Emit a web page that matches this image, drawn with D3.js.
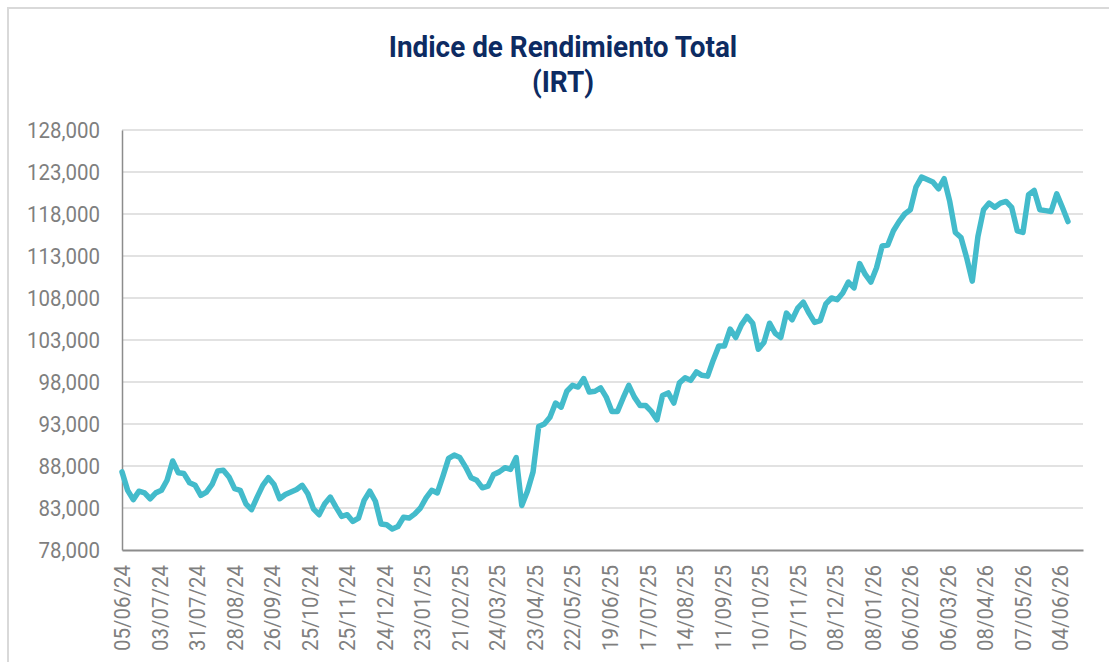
<!DOCTYPE html>
<html>
<head>
<meta charset="utf-8">
<script src="https://cdn.jsdelivr.net/npm/d3@7"></script>
<style>
  body { margin: 0; background: #fff; }
  svg { display: block; font-family: Roboto, "Noto Sans", sans-serif; }
</style>
</head>
<body>
<div id="chart"></div>
<script>
// tick labels of the category axis (one every 20 trading days)
const xLabels = ["05/06/24", "03/07/24", "31/07/24", "28/08/24", "26/09/24", "25/10/24",
  "25/11/24", "24/12/24", "23/01/25", "21/02/25", "24/03/25", "23/04/25", "22/05/25",
  "19/06/25", "17/07/25", "14/08/25", "11/09/25", "10/10/25", "07/11/25", "08/12/25",
  "08/01/26", "06/02/26", "06/03/26", "08/04/26", "07/05/26", "04/06/26"];

const yTicks = d3.range(78000, 128001, 5000);

// IRT values, one every 3 trading days
const step = 3;
const nCategories = 512;
const irt = [
  87300, 85100, 84000, 85000, 84800, 84100, 84800, 85100, 86300, 88600,
  87200, 87100, 86000, 85700, 84500, 84900, 85800, 87400, 87500, 86700,
  85300, 85100, 83500, 82800, 84300, 85700, 86600, 85800, 84100, 84600,
  84900, 85200, 85700, 84700, 82900, 82200, 83500, 84300, 83100, 82000,
  82200, 81400, 81800, 83900, 85000, 83800, 81100, 81000, 80500, 80800,
  81900, 81800, 82300, 83000, 84200, 85100, 84800, 86800, 88900, 89300,
  89000, 87900, 86600, 86300, 85400, 85600, 87000, 87300, 87800, 87600,
  89000, 83300, 85000, 87300, 92700, 93000, 93800, 95500, 95000, 96900,
  97600, 97400, 98400, 96800, 96900, 97300, 96200, 94500, 94500, 96100,
  97600, 96200, 95200, 95200, 94500, 93500, 96400, 96700, 95500, 97900,
  98500, 98200, 99200, 98800, 98700, 100600, 102300, 102300, 104300, 103300,
  104800, 105800, 105000, 101900, 102700, 105000, 103800, 103300, 106200, 105400,
  106800, 107500, 106200, 105100, 105300, 107300, 108000, 107800, 108600, 109900,
  109200, 112100, 110800, 109900, 111600, 114200, 114300, 116000, 117100, 118000,
  118500, 121200, 122400, 122100, 121800, 121000, 122200, 119500, 115800, 115200,
  112800, 110000, 115300, 118500, 119300, 118800, 119300, 119500, 118800, 116000,
  115800, 120300, 120800, 118500, 118400, 118300, 120400, 118800, 117100
];

const W = 1109, H = 662;
const margin = { top: 130, right: 26, bottom: 112, left: 122 };

const svg = d3.select("#chart").append("svg")
  .attr("width", W)
  .attr("height", H);

// outer frame
svg.append("rect")
  .attr("x", 8).attr("y", 8)
  .attr("width", W + 40).attr("height", H + 40)
  .attr("fill", "none")
  .attr("stroke", "#d9d9d9")
  .attr("stroke-width", 2);

// narrow the Roboto glyphs a bit, the original uses a condensed face
function condense(sel, f) {
  sel.each(function () {
    const len = this.getComputedTextLength();
    d3.select(this)
      .attr("textLength", len * f)
      .attr("lengthAdjust", "spacingAndGlyphs");
  });
}

// title
const title = svg.append("g")
  .attr("fill", "#0d2b62")
  .attr("font-weight", 700)
  .attr("font-size", 30)
  .attr("text-anchor", "middle");
title.append("text").attr("x", 563).attr("y", 57).text("Indice de Rendimiento Total");
title.append("text").attr("x", 563).attr("y", 92).text("(IRT)");
condense(title.selectAll("text"), 0.93);

const x = d3.scaleLinear()
  .domain([0, nCategories])
  .range([margin.left, W - margin.right]);

const y = d3.scaleLinear()
  .domain([78000, 128000])
  .range([H - margin.bottom, margin.top]);

// gridlines
svg.append("g")
  .selectAll("line")
  .data(yTicks.slice(1))
  .join("line")
  .attr("x1", margin.left)
  .attr("x2", W - margin.right)
  .attr("y1", d => y(d))
  .attr("y2", d => y(d))
  .attr("stroke", "#d9d9d9")
  .attr("stroke-width", 1.5);

// y axis
const yAxis = svg.append("g")
  .attr("transform", `translate(${margin.left},0)`)
  .call(d3.axisLeft(y).tickValues(yTicks).tickFormat(d3.format(",")).tickSize(0).tickPadding(22));
yAxis.select(".domain").attr("stroke", "#8c8c8c").attr("stroke-width", 1.5);
yAxis.selectAll("text")
  .attr("fill", "#7f7f7f")
  .attr("font-size", 22)
  .attr("font-family", "Roboto");
condense(yAxis.selectAll("text"), 0.93);

// x axis
const xAxis = svg.append("g")
  .attr("transform", `translate(0,${H - margin.bottom})`)
  .call(d3.axisBottom(x)
    .tickValues(d3.range(0, xLabels.length * 20, 20))
    .tickFormat(d => xLabels[d / 20])
    .tickSize(0));
xAxis.select(".domain").attr("stroke", "#8c8c8c").attr("stroke-width", 2);
xAxis.selectAll("text")
  .attr("fill", "#7f7f7f")
  .attr("font-size", 22)
  .attr("font-family", "Roboto")
  .attr("text-anchor", "end")
  .attr("dominant-baseline", "central")
  .attr("transform", "rotate(-90)")
  .attr("x", -15)
  .attr("y", 0)
  .attr("dy", null);
condense(xAxis.selectAll("text"), 0.93);

// line
const line = d3.line()
  .x((d, i) => x(i * step))
  .y(d => y(d));

svg.append("path")
  .datum(irt)
  .attr("d", line)
  .attr("fill", "none")
  .attr("stroke", "#43bbcb")
  .attr("stroke-width", 5.5)
  .attr("stroke-linejoin", "round")
  .attr("stroke-linecap", "round");
</script>
</body>
</html>
